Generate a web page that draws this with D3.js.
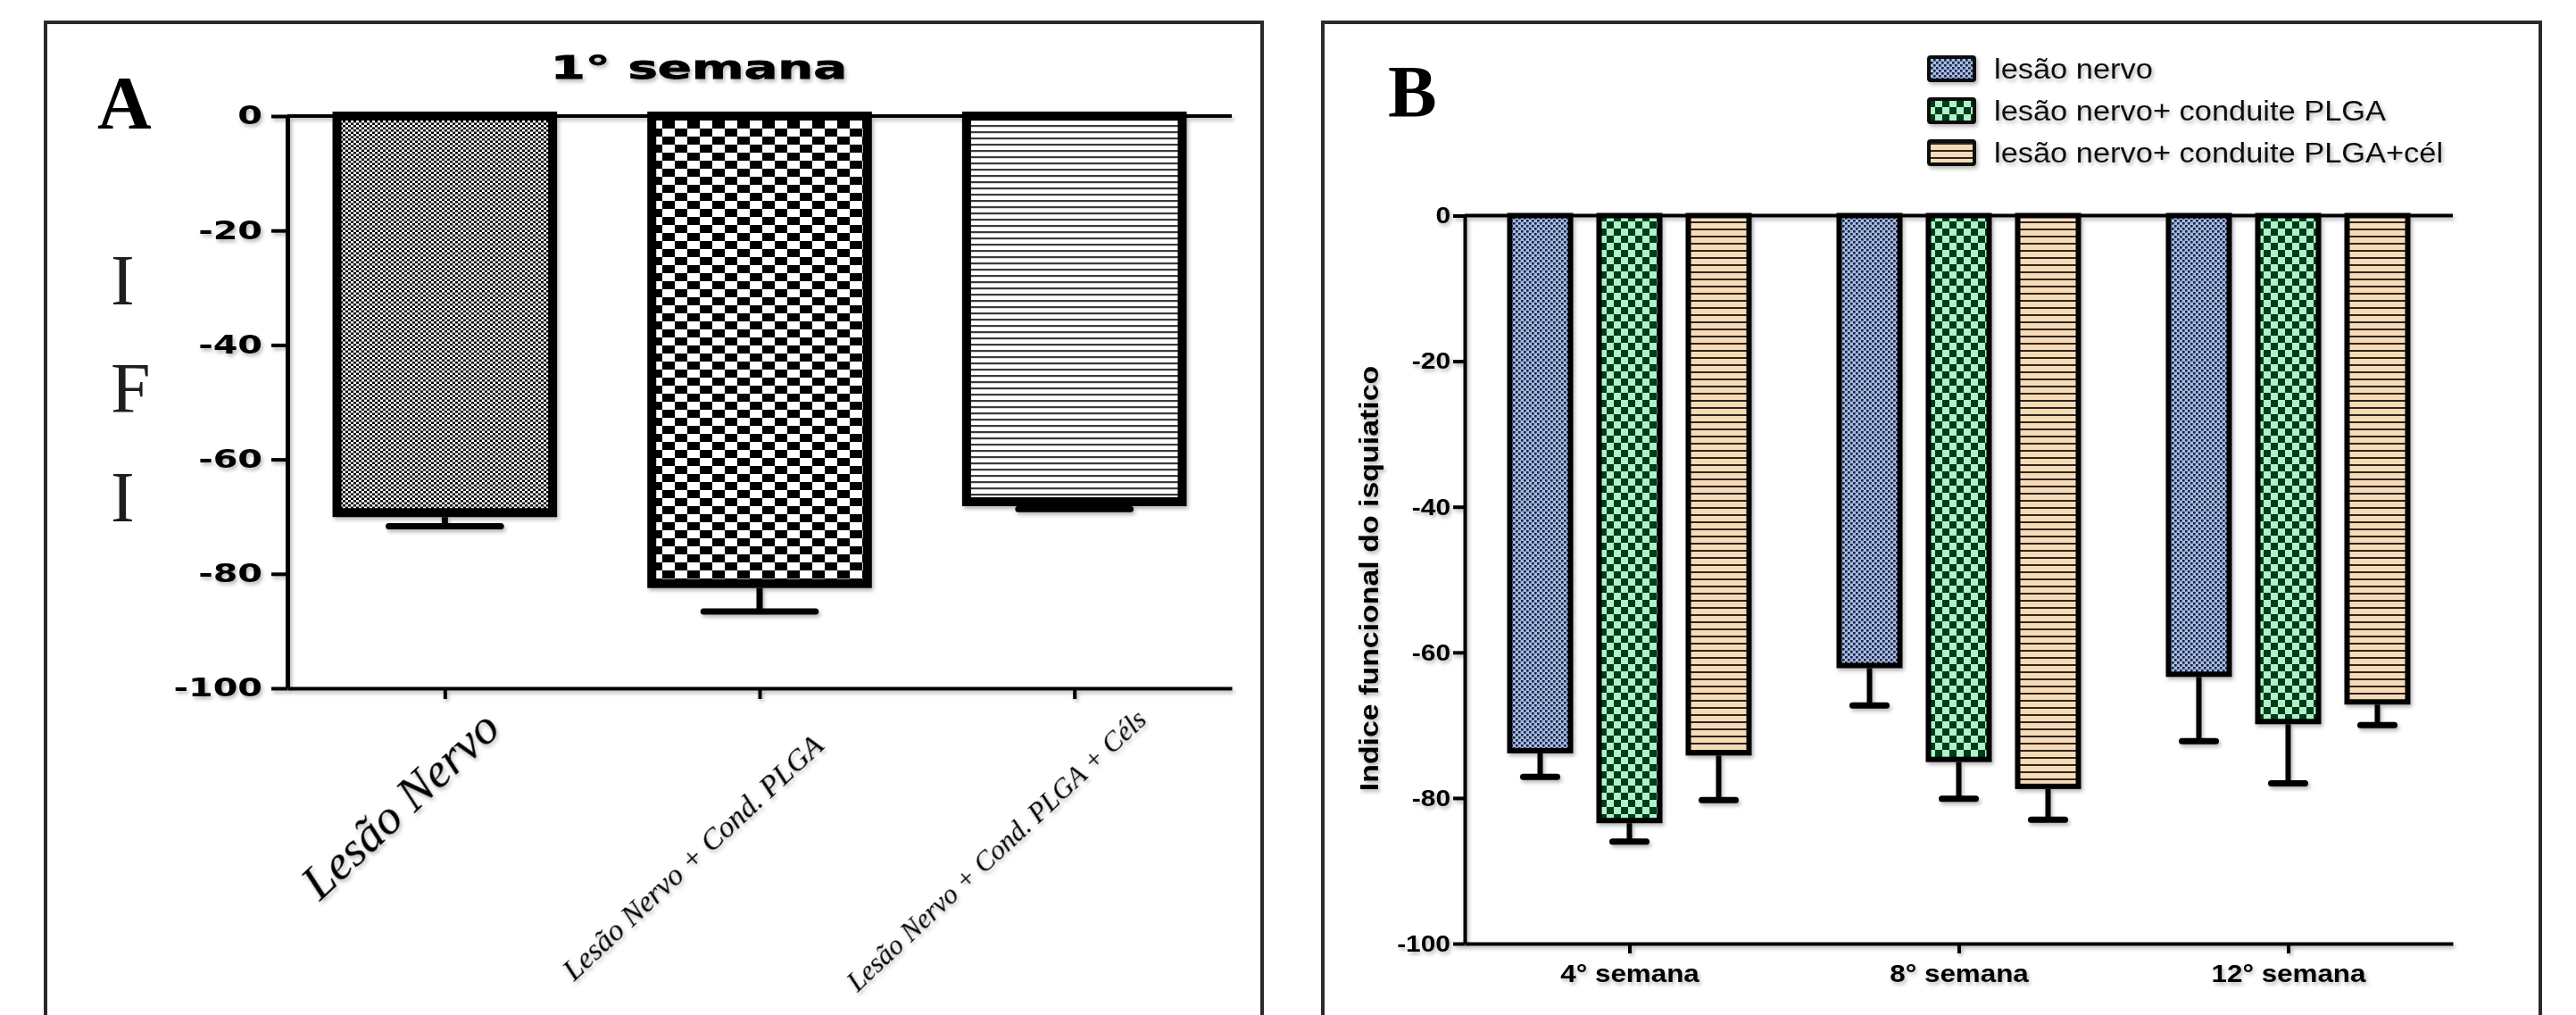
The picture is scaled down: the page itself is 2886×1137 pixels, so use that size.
<!DOCTYPE html>
<html><head><meta charset="utf-8">
<script src="https://cdn.jsdelivr.net/npm/d3@7"></script>
<style>html,body{margin:0;padding:0;background:#fff;overflow:hidden}</style>
</head><body>
<svg id="chart" width="2886" height="1137" xmlns="http://www.w3.org/2000/svg"></svg>
<script>
// ---------------- DATA ----------------
const catsA = ["Lesão Nervo", "Lesão Nervo + Cond. PLGA", "Lesão Nervo + Cond. PLGA + Céls"];
const meansA = [-69.3, -81.7, -67.4];
const semA = [2.4, 4.9, 1.3];
const titleA = "1° semana";
const yLabelA = ["I", "F", "I"];
const ticksA = [0, -20, -40, -60, -80, -100];
const panelLetters = ["A", "B"];

const weeksB = ["4° semana", "8° semana", "12° semana"];
const seriesB = ["lesão nervo", "lesão nervo+ conduite PLGA", "lesão nervo+ conduite PLGA+cél"];
const meansNervo = [-73.5, -61.8, -63.0];
const meansPLGA = [-83.1, -74.7, -69.5];
const meansCel = [-73.8, -78.4, -66.8];
const semNervo = [3.6, 5.5, 9.2];
const semPLGA = [2.9, 5.4, 8.5];
const semCel = [6.5, 4.6, 3.2];
const ticksB = [0, -20, -40, -60, -80, -100];
const yLabelB = "Indice funcional do isquiatico";

// ---------------- SETUP ----------------
const svg = d3.select("#chart");
svg.append("rect").attr("width", 2886).attr("height", 1137).attr("fill", "#fff");
const defs = svg.append("defs");

const sh = defs.append("filter").attr("id", "sh").attr("x", "-10%").attr("y", "-10%").attr("width", "130%").attr("height", "130%");
sh.append("feDropShadow").attr("dx", 2).attr("dy", 3).attr("stdDeviation", 2)
  .attr("flood-color", "#000").attr("flood-opacity", 0.28);

function pattern(id, w, h, bg, rects) {
  const p = defs.append("pattern").attr("id", id).attr("patternUnits", "userSpaceOnUse")
    .attr("width", w).attr("height", h);
  p.append("rect").attr("width", w).attr("height", h).attr("fill", bg);
  rects.forEach(r => p.append("rect").attr("x", r[0]).attr("y", r[1]).attr("width", r[2]).attr("height", r[3]).attr("fill", r[4]));
}
pattern("pA1", 6, 5, "#fff", [[0, 0, 3, 2.5, "#000"], [3, 2.5, 3, 2.5, "#000"]]);
pattern("pA2", 28, 18, "#fff", [[0, 0, 14, 9, "#000"], [14, 9, 14, 9, "#000"]]);
pattern("pA3", 8, 7, "#fff", [[0, 0, 8, 2.2, "#3a3a3a"]]);
pattern("pB0", 6, 6, "#a4bbe8", [[0, 0, 2.6, 2.6, "#1b2338"], [3, 3, 2.6, 2.6, "#1b2338"]]);
pattern("pB1", 16, 16, "#aef3c6", [[0, 0, 8, 8, "#003a1a"], [8, 8, 8, 8, "#003a1a"]]);
pattern("pB2", 8, 8, "#f7dbb7", [[0, 0, 8, 2, "#2e261e"]]);
const fillsA = ["url(#pA1)", "url(#pA2)", "url(#pA3)"];
const fillsB = ["url(#pB0)", "url(#pB1)", "url(#pB2)"];

function stretch(sel, k) {
  sel.each(function () {
    const L = this.getComputedTextLength();
    d3.select(this).attr("textLength", L * k).attr("lengthAdjust", "spacingAndGlyphs");
  });
}
const fmt = d => String(d);

// ---------------- PANEL A ----------------
svg.append("rect").attr("x", 51).attr("y", 25).attr("width", 1363).attr("height", 1300)
  .attr("fill", "none").attr("stroke", "#2a2a2a").attr("stroke-width", 4);

const gA = svg.append("g").attr("filter", "url(#sh)");
const yA = d3.scaleLinear().domain([0, -100]).range([130, 771]);
const xA = d3.scalePoint().domain(catsA).range([322, 1380]).padding(0.5);
const bwA = xA.step() * 0.685;

gA.selectAll("rect.barA").data(catsA).join("rect").attr("class", "barA")
  .attr("x", d => xA(d) - bwA / 2).attr("y", yA(0))
  .attr("width", bwA).attr("height", (d, i) => yA(meansA[i]) - yA(0))
  .attr("fill", (d, i) => fillsA[i]).attr("stroke", "#000").attr("stroke-width", 10);

gA.selectAll("line.errA").data(catsA).join("line").attr("class", "errA")
  .attr("x1", d => xA(d)).attr("x2", d => xA(d))
  .attr("y1", (d, i) => yA(meansA[i]) + 5).attr("y2", (d, i) => yA(meansA[i] - semA[i]))
  .attr("stroke", "#000").attr("stroke-width", 7);
gA.selectAll("line.capA").data(catsA).join("line").attr("class", "capA")
  .attr("x1", d => xA(d) - bwA * 0.26).attr("x2", d => xA(d) + bwA * 0.26)
  .attr("y1", (d, i) => yA(meansA[i] - semA[i])).attr("y2", (d, i) => yA(meansA[i] - semA[i]))
  .attr("stroke", "#000").attr("stroke-width", 7).attr("stroke-linecap", "round");

// zero line
gA.append("line").attr("x1", 322).attr("x2", 1380).attr("y1", yA(0)).attr("y2", yA(0))
  .attr("stroke", "#000").attr("stroke-width", 4);

const axA = gA.append("g").attr("transform", "translate(322,0)")
  .call(d3.axisLeft(yA).tickValues(ticksA).tickFormat(fmt).tickSize(18).tickSizeOuter(0).tickPadding(10));
axA.select(".domain").attr("stroke-width", 5);
axA.selectAll(".tick line").attr("stroke-width", 4);
axA.selectAll("text").attr("font-family", "DejaVu Sans").attr("font-weight", "bold")
  .attr("font-size", 28).attr("fill", "#000");
stretch(axA.selectAll("text"), 1.42);

const axAx = gA.append("g").attr("transform", `translate(0,${yA(-100)})`)
  .call(d3.axisBottom(xA).tickSize(12).tickSizeOuter(0).tickFormat(""));
axAx.select(".domain").attr("stroke-width", 4);
axAx.selectAll(".tick line").attr("stroke-width", 4);

// rotated category labels
const labSizeA = [55, 33.7, 31];
const labOffA = [[-140, 239], [-208, 329], [-243, 341]];
gA.selectAll("text.catA").data(catsA).join("text").attr("class", "catA")
  .attr("transform", (d, i) => `translate(${xA(d) + labOffA[i][0]},${yA(-100) + labOffA[i][1]}) rotate(-43)`)
  .attr("font-family", "Liberation Serif").attr("font-style", "italic")
  .attr("font-size", (d, i) => labSizeA[i]).attr("fill", "#000").text(d => d);

// title
const tA = gA.append("text").attr("x", 783).attr("y", 88).attr("text-anchor", "middle")
  .attr("font-family", "DejaVu Sans").attr("font-weight", "bold").attr("font-size", 36)
  .attr("fill", "#000").attr("stroke", "#000").attr("stroke-width", 0.8).text(titleA);
stretch(tA, 1.56);

// y label I F I
const ifiY = [341, 462, 584];
svg.selectAll("text.ifi").data(yLabelA).join("text").attr("class", "ifi")
  .attr("x", 124).attr("y", (d, i) => ifiY[i])
  .attr("font-family", "Liberation Serif").attr("font-size", 80).attr("fill", "#1e1e1e").text(d => d);

svg.append("text").attr("x", 109).attr("y", 144).attr("font-family", "Liberation Serif")
  .attr("font-weight", "bold").attr("font-size", 84).attr("fill", "#000").text(panelLetters[0]);

// ---------------- PANEL B ----------------
svg.append("rect").attr("x", 1482).attr("y", 25).attr("width", 1364).attr("height", 1300)
  .attr("fill", "none").attr("stroke", "#2a2a2a").attr("stroke-width", 4);

const gB = svg.append("g").attr("filter", "url(#sh)");
const yB = d3.scaleLinear().domain([0, -100]).range([241.5, 1057]);
const xB = d3.scalePoint().domain(weeksB).range([1641, 2748]).padding(0.5);
const x1 = d3.scaleBand().domain(seriesB).range([-150, 150]).paddingInner(0.32).paddingOuter(0.16);
const meansB = [meansNervo, meansPLGA, meansCel];
const semB = [semNervo, semPLGA, semCel];

const rowsB = [];
seriesB.forEach((s, si) => weeksB.forEach((w, wi) => rowsB.push({ s, si, w, v: meansB[si][wi], e: semB[si][wi] })));

gB.selectAll("rect.barB").data(rowsB).join("rect").attr("class", "barB")
  .attr("x", d => xB(d.w) + x1(d.s)).attr("y", yB(0))
  .attr("width", x1.bandwidth()).attr("height", d => yB(d.v) - yB(0))
  .attr("fill", d => fillsB[d.si]).attr("stroke", "#000").attr("stroke-width", 6);

gB.selectAll("line.errB").data(rowsB).join("line").attr("class", "errB")
  .attr("x1", d => xB(d.w) + x1(d.s) + x1.bandwidth() / 2).attr("x2", d => xB(d.w) + x1(d.s) + x1.bandwidth() / 2)
  .attr("y1", d => yB(d.v) + 3).attr("y2", d => yB(d.v - d.e))
  .attr("stroke", "#000").attr("stroke-width", 6);
gB.selectAll("line.capB").data(rowsB).join("line").attr("class", "capB")
  .attr("x1", d => xB(d.w) + x1(d.s) + x1.bandwidth() / 2 - 19).attr("x2", d => xB(d.w) + x1(d.s) + x1.bandwidth() / 2 + 19)
  .attr("y1", d => yB(d.v - d.e)).attr("y2", d => yB(d.v - d.e))
  .attr("stroke", "#000").attr("stroke-width", 7).attr("stroke-linecap", "round");

gB.append("line").attr("x1", 1641).attr("x2", 2748).attr("y1", yB(0)).attr("y2", yB(0))
  .attr("stroke", "#000").attr("stroke-width", 4);

const axB = gB.append("g").attr("transform", "translate(1641,0)")
  .call(d3.axisLeft(yB).tickValues(ticksB).tickFormat(fmt).tickSize(13).tickSizeOuter(0).tickPadding(3));
axB.select(".domain").attr("stroke-width", 4);
axB.selectAll(".tick line").attr("stroke-width", 4);
axB.selectAll("text").attr("font-family", "Liberation Sans").attr("font-weight", "bold")
  .attr("font-size", 26).attr("fill", "#000");
stretch(axB.selectAll("text"), 1.15);

const axBx = gB.append("g").attr("transform", `translate(0,${yB(-100)})`)
  .call(d3.axisBottom(xB).tickSize(11).tickSizeOuter(0).tickPadding(12));
axBx.select(".domain").attr("stroke-width", 4);
axBx.selectAll(".tick line").attr("stroke-width", 4);
axBx.selectAll("text").attr("font-family", "Liberation Sans").attr("font-weight", "bold")
  .attr("font-size", 28).attr("fill", "#000");
stretch(axBx.selectAll("text"), 1.12);

const ylB = gB.append("text").attr("transform", "translate(1544,648) rotate(-90)")
  .attr("text-anchor", "middle").attr("font-family", "Liberation Sans").attr("font-weight", "bold")
  .attr("font-size", 30).attr("fill", "#000").text(yLabelB);
stretch(ylB, 1.13);

// legend
const legY = [77, 124, 171];
const lg = gB.append("g");
lg.selectAll("rect").data(seriesB).join("rect")
  .attr("x", 2161).attr("y", (d, i) => legY[i] - 13).attr("width", 51).attr("height", 26).attr("rx", 2)
  .attr("fill", (d, i) => fillsB[i]).attr("stroke", "#111").attr("stroke-width", 4);
const lt = lg.selectAll("text").data(seriesB).join("text")
  .attr("x", 2234).attr("y", (d, i) => legY[i] + 11)
  .attr("font-family", "Liberation Sans").attr("font-size", 31).attr("fill", "#111").text(d => d);
stretch(lt, 1.11);

svg.append("text").attr("x", 1555).attr("y", 130).attr("font-family", "Liberation Serif")
  .attr("font-weight", "bold").attr("font-size", 82).attr("fill", "#000").text(panelLetters[1]);
</script>
</body></html>
